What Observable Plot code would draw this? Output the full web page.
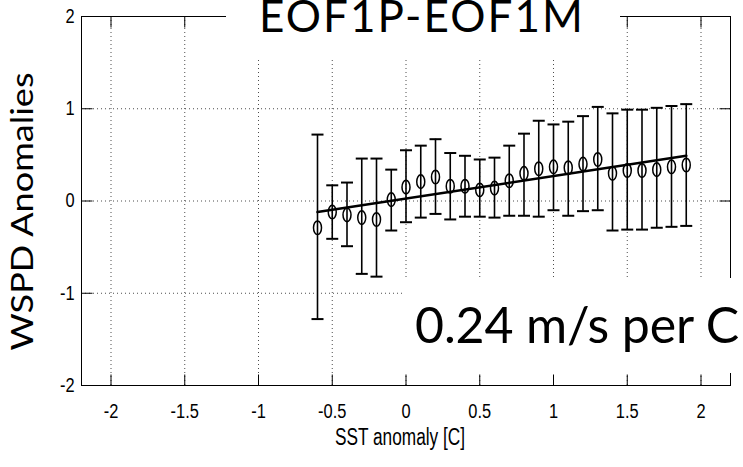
<!DOCTYPE html>
<html>
<head>
<meta charset="utf-8">
<script src="https://cdn.jsdelivr.net/npm/d3@7"></script>
<script src="https://cdn.jsdelivr.net/npm/@observablehq/plot@0.6"></script>
<style>
  html, body { margin: 0; padding: 0; background: #fff; }
  #wrap { position: relative; width: 743px; height: 467px; overflow: hidden; }
  .box { position: absolute; background: #fff; }
  .box span { position: absolute; color: #000; font-family: Lato, "Open Sans", sans-serif; white-space: nowrap; }
</style>
</head>
<body>
<div id="wrap"></div>
<script>
// ---- data ----
const sst = [-0.6, -0.5, -0.4, -0.3, -0.2, -0.1, 0, 0.1, 0.2, 0.3, 0.4, 0.5, 0.6,
             0.7, 0.8, 0.9, 1.0, 1.1, 1.2, 1.3, 1.4, 1.5, 1.6, 1.7, 1.8, 1.9];
const wspdMean = [-0.29, -0.12, -0.15, -0.18, -0.20, 0.015, 0.15, 0.21, 0.26, 0.16, 0.16, 0.12, 0.14,
                  0.22, 0.30, 0.35, 0.37, 0.36, 0.40, 0.45, 0.30, 0.33, 0.33, 0.34, 0.37, 0.39];
const wspdUpper = [0.72, 0.17, 0.20, 0.46, 0.46, 0.34, 0.55, 0.60, 0.67, 0.52, 0.49, 0.45, 0.47,
                   0.60, 0.73, 0.87, 0.83, 0.86, 0.92, 1.02, 0.95, 0.99, 0.99, 1.01, 1.03, 1.05];
const wspdLower = [-1.28, -0.41, -0.49, -0.79, -0.82, -0.32, -0.23, -0.18, -0.14, -0.20, -0.17, -0.17, -0.18,
                   -0.16, -0.16, -0.17, -0.10, -0.16, -0.11, -0.10, -0.32, -0.31, -0.31, -0.29, -0.28, -0.27];
const fitX = [-0.6, 1.9];
const fitY = [-0.12, 0.49];
const xTicks = [-2, -1.5, -1, -0.5, 0, 0.5, 1, 1.5, 2];
const yTicks = [-2, -1, 0, 1, 2];
const yGrid = [-1, 0, 1];
const titleText = "EOF1P-EOF1M";
const slopeText = "0.24 m/s per C";
const xLabel = "SST anomaly [C]";
const yLabel = "WSPD Anomalies";

// ---- build ----
const rows = sst.map((x, i) => ({x, m: wspdMean[i], lo: wspdLower[i], hi: wspdUpper[i]}));
const fit = fitX.map((x, i) => ({x, y: fitY[i]}));

const ellipse = {draw(ctx) {
  const rx = 4, ry = 6.8, k = 0.5523;
  ctx.moveTo(0, -ry);
  ctx.bezierCurveTo(rx * k, -ry, rx, -ry * k, rx, 0);
  ctx.bezierCurveTo(rx, ry * k, rx * k, ry, 0, ry);
  ctx.bezierCurveTo(-rx * k, ry, -rx, ry * k, -rx, 0);
  ctx.bezierCurveTo(-rx, -ry * k, -rx * k, -ry, 0, -ry);
  ctx.closePath();
}};
const cap = {draw(ctx) { ctx.moveTo(-6, 0); ctx.lineTo(6, 0); }};
const tickUp = {draw(ctx) { ctx.moveTo(0, 0); ctx.lineTo(0, -11); }};
const tickDown = {draw(ctx) { ctx.moveTo(0, 0); ctx.lineTo(0, 11); }};
const tickRight = {draw(ctx) { ctx.moveTo(0, 0); ctx.lineTo(11, 0); }};
const tickLeft = {draw(ctx) { ctx.moveTo(0, 0); ctx.lineTo(-11, 0); }};

const tickFont = '"Liberation Sans", Arial, Helvetica, sans-serif';
const fmt = d => String(d);

const chart = Plot.plot({
  width: 743,
  height: 467,
  marginLeft: 81,
  marginRight: 13,
  marginTop: 16,
  marginBottom: 82,
  style: {background: "#fff", color: "#000", fontFamily: tickFont},
  x: {domain: [-2.2, 2.2], label: null},
  y: {domain: [-2, 2], label: null},
  marks: [
    Plot.gridX(xTicks, {stroke: "#000", strokeOpacity: 0.7, strokeDasharray: "1,3"}),
    Plot.gridY(yGrid, {stroke: "#000", strokeOpacity: 0.7, strokeDasharray: "1,3"}),
    Plot.dot(xTicks, {x: d => d, frameAnchor: "bottom", symbol: tickUp, stroke: "#000", fill: "none", strokeWidth: 1}),
    Plot.dot(xTicks, {x: d => d, frameAnchor: "top", symbol: tickDown, stroke: "#000", fill: "none", strokeWidth: 1}),
    Plot.dot(yTicks, {y: d => d, frameAnchor: "left", symbol: tickRight, stroke: "#000", fill: "none", strokeWidth: 1}),
    Plot.dot(yTicks, {y: d => d, frameAnchor: "right", symbol: tickLeft, stroke: "#000", fill: "none", strokeWidth: 1}),
    Plot.frame({stroke: "#000", strokeWidth: 1}),
    Plot.axisX(xTicks, {anchor: "bottom", tickSize: 0, tickPadding: 18, tickFormat: fmt, fontSize: 20, label: null}),
    Plot.axisY(yTicks, {anchor: "left", tickSize: 0, tickPadding: 7, tickFormat: fmt, fontSize: 20, label: null}),
    Plot.text([xLabel], {frameAnchor: "bottom", lineAnchor: "middle", dx: -6, dy: 52, fontSize: 23}),
    Plot.text([yLabel], {frameAnchor: "left", textAnchor: "middle", lineAnchor: "middle", dx: -58, dy: 10.5, rotate: -90,
      fontSize: 30, fontFamily: 'Lato, "Open Sans", sans-serif'}),
    Plot.ruleX(rows, {x: "x", y1: "lo", y2: "hi", stroke: "#000", strokeWidth: 1.6}),
    Plot.dot(rows, {x: "x", y: "hi", symbol: cap, stroke: "#000", fill: "none", strokeWidth: 2}),
    Plot.dot(rows, {x: "x", y: "lo", symbol: cap, stroke: "#000", fill: "none", strokeWidth: 2}),
    Plot.line(fit, {x: "x", y: "y", stroke: "#000", strokeWidth: 2.6}),
    Plot.dot(rows, {x: "x", y: "m", symbol: ellipse, stroke: "#000", fill: "none", strokeWidth: 1.5})
  ]
});

const wrap = document.getElementById("wrap");
wrap.appendChild(chart);

// condensed look for the tick labels and x label (the original uses a narrow face)
function fitText(pred, length, adjust) {
  chart.querySelectorAll("text").forEach(t => {
    if (!pred(t)) return;
    const w = t.getComputedTextLength();
    t.setAttribute("textLength", typeof length === "function" ? length(w) : length);
    t.setAttribute("lengthAdjust", adjust);
  });
}
const tickStrings = new Set([...xTicks, ...yTicks].map(fmt));
fitText(t => tickStrings.has(t.textContent), w => w * 0.82, "spacingAndGlyphs");
fitText(t => t.textContent === xLabel, 130, "spacingAndGlyphs");
fitText(t => t.textContent === yLabel, 278, "spacingAndGlyphs");

// boxed texts drawn over the frame, like the original
function boxed(text, box, fontSize, lineHeight, left, baseline, targetWidth) {
  const div = document.createElement("div");
  div.className = "box";
  Object.assign(div.style, {left: box[0] + "px", top: box[1] + "px", width: box[2] + "px", height: box[3] + "px"});
  const span = document.createElement("span");
  span.textContent = text;
  span.style.fontSize = fontSize + "px";
  span.style.lineHeight = String(lineHeight);
  div.appendChild(span);
  wrap.appendChild(div);
  const w = span.getBoundingClientRect().width;
  const n = [...text].length;
  span.style.letterSpacing = ((targetWidth - w) / n) + "px";
  span.style.left = (left - box[0]) + "px";
  const baseOffset = ((lineHeight - 1.2) / 2 + 0.987) * fontSize;
  span.style.top = (baseline - baseOffset - box[1]) + "px";
}
boxed(titleText, [226, 0, 394, 58], 44, 0.7, 259, 32.5, 326);
boxed(slopeText, [404, 278, 339, 95], 50, 1, 415, 343.5, 324);
</script>
</body>
</html>
